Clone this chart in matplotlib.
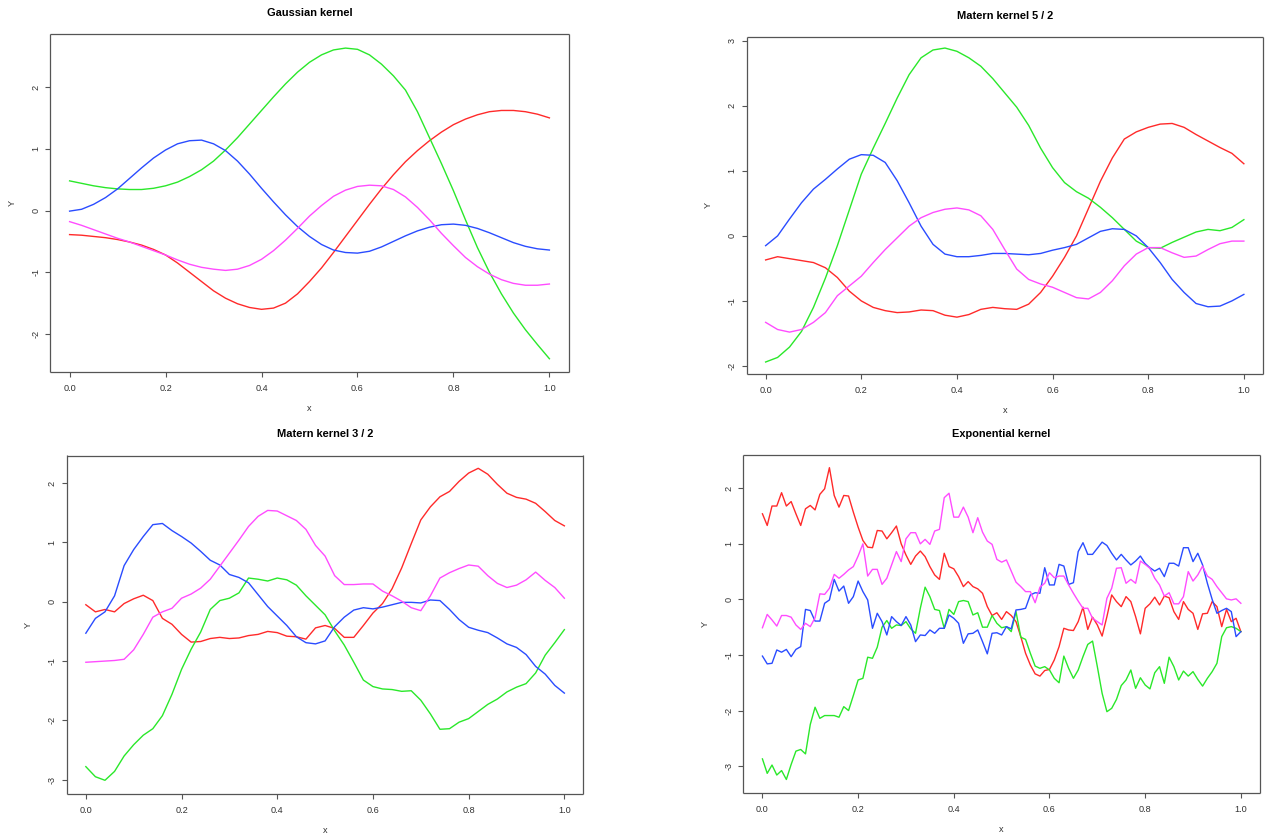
import numpy as np
import matplotlib.pyplot as plt

plt.rcParams['font.family'] = ['Liberation Sans', 'DejaVu Sans']

# ---- Gaussian kernel (x step 0.025) ----
x_gauss = np.linspace(0, 1, 41)
gauss_red = [-0.39, -0.40, -0.42, -0.44, -0.47, -0.51, -0.56, -0.63, -0.72, -0.85,
             -1.00, -1.15, -1.30, -1.42, -1.51, -1.57, -1.60, -1.58, -1.50, -1.35,
             -1.15, -0.93, -0.68, -0.42, -0.16, 0.10, 0.35, 0.58, 0.79, 0.97,
             1.13, 1.27, 1.39, 1.48, 1.55, 1.60, 1.62, 1.62, 1.60, 1.56, 1.50]
gauss_green = [0.48, 0.44, 0.40, 0.37, 0.35, 0.34, 0.34, 0.36, 0.40, 0.46,
               0.55, 0.66, 0.80, 0.98, 1.18, 1.40, 1.62, 1.84, 2.05, 2.24,
               2.40, 2.52, 2.60, 2.63, 2.61, 2.52, 2.37, 2.18, 1.95, 1.60,
               1.18, 0.76, 0.32, -0.15, -0.60, -1.00, -1.35, -1.66, -1.93, -2.17, -2.40]
gauss_blue = [-0.01, 0.02, 0.10, 0.21, 0.35, 0.52, 0.69, 0.85, 0.98, 1.08,
              1.13, 1.14, 1.08, 0.97, 0.80, 0.59, 0.36, 0.14, -0.07, -0.26,
              -0.42, -0.55, -0.64, -0.68, -0.69, -0.66, -0.59, -0.50, -0.41, -0.33,
              -0.27, -0.23, -0.22, -0.24, -0.29, -0.36, -0.44, -0.52, -0.58, -0.62, -0.64]
gauss_magenta = [-0.18, -0.24, -0.31, -0.38, -0.45, -0.51, -0.58, -0.65, -0.72, -0.80,
                 -0.87, -0.92, -0.95, -0.97, -0.95, -0.89, -0.79, -0.65, -0.48, -0.29,
                 -0.09, 0.08, 0.23, 0.33, 0.39, 0.41, 0.40, 0.34, 0.22, 0.05,
                 -0.15, -0.37, -0.57, -0.76, -0.91, -1.03, -1.12, -1.18, -1.21, -1.21, -1.19]

# ---- Matern 5/2 (x step 0.025) ----
x_m52 = np.linspace(0, 1, 41)
m52_red = [-0.37, -0.32, -0.35, -0.38, -0.41, -0.49, -0.64, -0.85, -1.00, -1.10, -1.15,
           -1.18, -1.17, -1.14, -1.15, -1.22, -1.25, -1.21, -1.13, -1.10, -1.12,
           -1.13, -1.05, -0.87, -0.62, -0.33, 0.00, 0.42, 0.84, 1.20, 1.49,
           1.60, 1.67, 1.72, 1.73, 1.67, 1.56, 1.46, 1.36, 1.27, 1.11]
m52_green = [-1.94, -1.87, -1.71, -1.47, -1.10, -0.65, -0.15, 0.40, 0.95, 1.35, 1.73,
             2.12, 2.48, 2.74, 2.86, 2.89, 2.84, 2.74, 2.61, 2.42, 2.20,
             1.98, 1.70, 1.35, 1.05, 0.82, 0.68, 0.58, 0.44, 0.28, 0.10,
             -0.08, -0.18, -0.19, -0.10, -0.02, 0.06, 0.10, 0.08, 0.13, 0.25]
m52_blue = [-0.15, 0.00, 0.26, 0.51, 0.72, 0.87, 1.03, 1.18, 1.25, 1.24, 1.13,
            0.85, 0.51, 0.15, -0.13, -0.28, -0.32, -0.32, -0.30, -0.27, -0.27,
            -0.28, -0.29, -0.27, -0.22, -0.18, -0.13, -0.03, 0.07, 0.11, 0.10,
            0.00, -0.18, -0.41, -0.67, -0.87, -1.04, -1.09, -1.08, -1.00, -0.90]
m52_magenta = [-1.33, -1.44, -1.48, -1.44, -1.33, -1.18, -0.92, -0.77, -0.62, -0.41, -0.21,
               -0.03, 0.15, 0.28, 0.36, 0.41, 0.43, 0.40, 0.31, 0.10, -0.21,
               -0.51, -0.67, -0.74, -0.79, -0.87, -0.95, -0.97, -0.87, -0.69, -0.46,
               -0.28, -0.18, -0.18, -0.26, -0.33, -0.31, -0.21, -0.12, -0.08, -0.08]

# ---- Matern 3/2 (x step 0.02) ----
x_m32 = np.linspace(0, 1, 51)
m32_red = [-0.05, -0.17, -0.13, -0.17, -0.03, 0.05, 0.11, 0.02, -0.28, -0.38, -0.55,
           -0.68, -0.67, -0.62, -0.60, -0.62, -0.61, -0.57, -0.55, -0.50, -0.52,
           -0.58, -0.59, -0.63, -0.44, -0.40, -0.45, -0.60, -0.60, -0.40, -0.19,
           -0.03, 0.22, 0.57, 0.98, 1.38, 1.60, 1.77, 1.86, 2.03, 2.17,
           2.25, 2.15, 1.98, 1.83, 1.76, 1.73, 1.66, 1.52, 1.37, 1.28]
m32_green = [-2.78, -2.95, -3.01, -2.86, -2.60, -2.41, -2.25, -2.14, -1.92, -1.56, -1.14,
             -0.80, -0.51, -0.13, 0.02, 0.06, 0.15, 0.40, 0.38, 0.35, 0.40,
             0.37, 0.28, 0.10, -0.06, -0.22, -0.49, -0.73, -1.02, -1.32, -1.43,
             -1.47, -1.48, -1.51, -1.50, -1.66, -1.89, -2.15, -2.14, -2.03, -1.97,
             -1.85, -1.73, -1.64, -1.52, -1.44, -1.38, -1.20, -0.90, -0.69, -0.47]
m32_blue = [-0.53, -0.28, -0.17, 0.10, 0.61, 0.88, 1.10, 1.30, 1.32, 1.20, 1.10,
            0.99, 0.85, 0.70, 0.62, 0.46, 0.41, 0.32, 0.12, -0.08, -0.24,
            -0.40, -0.59, -0.69, -0.71, -0.66, -0.42, -0.26, -0.14, -0.10, -0.12,
            -0.09, -0.05, -0.01, -0.01, -0.02, 0.03, 0.02, -0.13, -0.30, -0.43,
            -0.48, -0.52, -0.61, -0.71, -0.77, -0.89, -1.09, -1.22, -1.41, -1.54]
m32_magenta = [-1.02, -1.01, -1.00, -0.99, -0.97, -0.81, -0.55, -0.26, -0.17, -0.11, 0.06,
               0.13, 0.23, 0.38, 0.60, 0.82, 1.04, 1.27, 1.44, 1.54, 1.53,
               1.45, 1.37, 1.22, 0.95, 0.77, 0.44, 0.29, 0.29, 0.30, 0.30,
               0.18, 0.10, 0.01, -0.10, -0.15, 0.10, 0.40, 0.49, 0.56, 0.62,
               0.60, 0.44, 0.31, 0.24, 0.28, 0.37, 0.50, 0.36, 0.24, 0.06]

# ---- Exponential kernel (x step 0.01) ----
x_exp = np.linspace(0, 1, 101)
exp_red = [1.54, 1.33, 1.68, 1.68, 1.92, 1.68, 1.76, 1.54, 1.33, 1.63,
           1.69, 1.61, 1.89, 1.99, 2.37, 1.87, 1.66, 1.87, 1.86, 1.57,
           1.30, 1.06, 0.94, 0.93, 1.24, 1.23, 1.09, 1.20, 1.32, 1.00,
           0.80, 0.63, 0.78, 0.87, 0.77, 0.59, 0.44, 0.36, 0.83, 0.59,
           0.55, 0.41, 0.23, 0.32, 0.23, 0.19, 0.11, -0.13, -0.29, -0.24,
           -0.36, -0.22, -0.29, -0.40, -0.67, -0.97, -1.18, -1.34, -1.38, -1.28,
           -1.26, -1.09, -0.85, -0.52, -0.55, -0.56, -0.40, -0.14, -0.54, -0.32,
           -0.46, -0.66, -0.31, 0.08, -0.04, -0.13, 0.05, -0.04, -0.31, -0.62,
           -0.16, -0.08, 0.04, -0.10, 0.06, 0.03, -0.22, -0.36, -0.04, -0.18,
           -0.25, -0.54, -0.26, -0.25, -0.04, -0.13, -0.49, -0.18, -0.40, -0.34,
           -0.58]
exp_green = [-2.87, -3.13, -2.98, -3.16, -3.08, -3.24, -2.97, -2.73, -2.70, -2.78,
             -2.25, -1.94, -2.14, -2.09, -2.09, -2.09, -2.12, -1.93, -2.00, -1.73,
             -1.45, -1.42, -1.04, -1.06, -0.86, -0.50, -0.38, -0.52, -0.46, -0.47,
             -0.40, -0.53, -0.61, -0.16, 0.22, 0.05, -0.18, -0.20, -0.52, -0.18,
             -0.27, -0.04, -0.02, -0.04, -0.28, -0.24, -0.50, -0.50, -0.29, -0.43,
             -0.51, -0.49, -0.58, -0.22, -0.68, -0.72, -0.97, -1.20, -1.24, -1.21,
             -1.27, -1.42, -1.50, -1.02, -1.24, -1.42, -1.27, -1.03, -0.81, -0.75,
             -1.21, -1.69, -2.02, -1.96, -1.80, -1.55, -1.45, -1.27, -1.60, -1.41,
             -1.54, -1.61, -1.32, -1.21, -1.51, -1.04, -1.21, -1.45, -1.29, -1.38,
             -1.30, -1.44, -1.56, -1.42, -1.30, -1.15, -0.67, -0.51, -0.49, -0.52,
             -0.58]
exp_blue = [-1.02, -1.16, -1.15, -0.91, -0.95, -0.90, -1.03, -0.90, -0.85, -0.18,
            -0.20, -0.39, -0.39, -0.07, -0.01, 0.36, 0.15, 0.24, -0.07, 0.05,
            0.33, 0.14, -0.01, -0.52, -0.25, -0.40, -0.64, -0.31, -0.40, -0.47,
            -0.31, -0.46, -0.76, -0.64, -0.65, -0.55, -0.61, -0.52, -0.52, -0.28,
            -0.34, -0.43, -0.79, -0.62, -0.61, -0.55, -0.76, -0.98, -0.61, -0.60,
            -0.64, -0.49, -0.53, -0.19, -0.18, -0.16, 0.08, 0.12, 0.11, 0.57,
            0.26, 0.26, 0.63, 0.60, 0.27, 0.30, 0.86, 1.02, 0.81, 0.81,
            0.92, 1.03, 0.97, 0.83, 0.71, 0.81, 0.71, 0.62, 0.69, 0.78,
            0.65, 0.57, 0.51, 0.56, 0.41, 0.65, 0.65, 0.60, 0.93, 0.93,
            0.68, 0.83, 0.62, 0.29, 0.00, -0.25, -0.20, -0.16, -0.22, -0.67,
            -0.58]
exp_magenta = [-0.51, -0.27, -0.37, -0.48, -0.29, -0.29, -0.32, -0.46, -0.54, -0.43,
               -0.49, -0.33, 0.10, 0.09, 0.20, 0.45, 0.38, 0.45, 0.53, 0.59,
               0.78, 1.00, 0.42, 0.54, 0.54, 0.27, 0.38, 0.62, 0.86, 0.68,
               1.09, 1.20, 1.20, 1.00, 1.08, 0.99, 1.23, 1.26, 1.83, 1.91,
               1.48, 1.48, 1.66, 1.48, 1.20, 1.47, 1.21, 1.05, 0.99, 0.72,
               0.67, 0.71, 0.51, 0.31, 0.23, 0.14, 0.14, -0.06, 0.22, 0.29,
               0.48, 0.39, 0.42, 0.42, 0.26, 0.11, -0.03, -0.16, -0.16, -0.34,
               -0.40, -0.46, 0.02, 0.20, 0.56, 0.57, 0.29, 0.36, 0.29, 0.69,
               0.63, 0.56, 0.38, 0.26, 0.06, 0.12, -0.08, -0.08, 0.05, 0.50,
               0.33, 0.44, 0.60, 0.42, 0.36, 0.23, 0.12, 0.01, -0.01, 0.01,
               -0.07]

colors = {'red': '#ff2a2a', 'green': '#2ae82a', 'blue': '#2a4cff', 'magenta': '#ff4cff'}
xticks = [0.0, 0.2, 0.4, 0.6, 0.8, 1.0]
xticklabels = ['0.0', '0.2', '0.4', '0.6', '0.8', '1.0']

W, H = 1265, 838


def rect(left, top, right, bottom):
    # pixel box -> figure fraction
    return [left / W, 1 - bottom / H, (right - left) / W, (bottom - top) / H]


def draw_panel(fig, box, title, x, series, ylim, yticks):
    ax = fig.add_axes(rect(*box))
    for name in ['red', 'green', 'blue', 'magenta']:
        ax.plot(x, series[name], color=colors[name], lw=1.0)
    ax.set_xlim(-0.04, 1.04)
    ax.set_ylim(*ylim)
    ax.set_xticks(xticks)
    ax.set_xticklabels(xticklabels)
    ax.set_yticks(yticks)
    ax.set_yticklabels([str(t) for t in yticks])
    for s in ax.spines.values():
        s.set_color('#555555')
        s.set_linewidth(0.9)
        s.set_capstyle('butt')
    ax.tick_params(direction='out', length=3.6, width=0.8, color='#555555',
                   labelsize=6.6, labelcolor='#333333')
    ax.tick_params(axis='x', pad=5)
    ax.tick_params(axis='y', pad=3.6)
    for lab in ax.get_yticklabels():
        lab.set_rotation(90)
        lab.set_va('center')
    ax.set_title(title, fontsize=7.9, fontweight='bold', pad=13)
    ax.set_xlabel('x', fontsize=6.6, color='#333333')
    ax.set_ylabel('Y', fontsize=6.6, color='#333333')
    h = box[3] - box[1]
    w = box[2] - box[0]
    ax.xaxis.set_label_coords(0.5, -32 / h)
    ax.yaxis.set_label_coords(-33.6 / w, 0.5)
    return ax


fig = plt.figure(figsize=(12.65, 8.38), dpi=100)

draw_panel(fig, (50.4, 34.5, 568.6, 371.7), 'Gaussian kernel', x_gauss,
           {'red': gauss_red, 'green': gauss_green, 'blue': gauss_blue, 'magenta': gauss_magenta},
           (-2.61, 2.85), [-2, -1, 0, 1, 2])
draw_panel(fig, (746.5, 37.0, 1263.0, 373.7), 'Matern kernel 5 / 2', x_m52,
           {'red': m52_red, 'green': m52_green, 'blue': m52_blue, 'magenta': m52_magenta},
           (-2.12, 3.06), [-2, -1, 0, 1, 2, 3])
draw_panel(fig, (66.7, 455.5, 583.5, 793.7), 'Matern kernel 3 / 2', x_m32,
           {'red': m32_red, 'green': m32_green, 'blue': m32_blue, 'magenta': m32_magenta},
           (-3.236, 2.466), [-3, -2, -1, 0, 1, 2])
draw_panel(fig, (743.3, 455.0, 1260.0, 792.7), 'Exponential kernel', x_exp,
           {'red': exp_red, 'green': exp_green, 'blue': exp_blue, 'magenta': exp_magenta},
           (-3.478, 2.598), [-3, -2, -1, 0, 1, 2])

fig.savefig('out.png', dpi=100)
